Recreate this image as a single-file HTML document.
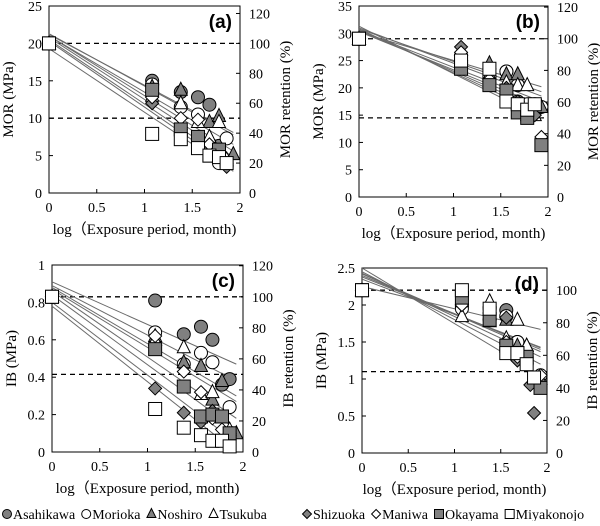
<!DOCTYPE html>
<html><head><meta charset="utf-8"><style>
body{margin:0;background:#fff;width:600px;height:521px;overflow:hidden}
svg text{font-family:"Liberation Serif",serif;fill:#000}
</style></head><body>
<svg id="c" width="600" height="521" xmlns="http://www.w3.org/2000/svg"></svg>
<script>
const seriesNames=["Asahikawa","Morioka","Noshiro","Tsukuba","Shizuoka","Maniwa","Okayama","Miyakonojo"];
const markerShapes=["circle","circle","triangle","triangle","diamond","diamond","square","square"];
const markerFilled=[true,false,true,false,true,false,true,false];
const xTicks=[0,0.5,1,1.5,2];
const rightTicksPct=[0,20,40,60,80,100,120];
// panel a data
const aStart=20;
const aYTicks=[0,5,10,15,20,25];
const aSeries=[
[[1.08,15],[1.38,13.5],[1.56,12.8],[1.68,11.8],[1.78,6.3]],
[[1.08,14.5],[1.38,11.5],[1.56,10.5],[1.68,6.5],[1.86,7.3],[1.78,4]],
[[1.08,14.2],[1.38,13.8],[1.68,9.5],[1.78,10.3],[1.93,5.2]],
[[1.08,13],[1.38,12],[1.56,9.5],[1.68,7.5],[1.78,9.5],[1.86,4.5]],
[[1.08,12],[1.38,8.5],[1.56,7],[1.68,6],[1.86,3.5]],
[[1.08,12.8],[1.38,10],[1.56,9.8],[1.68,6.5],[1.86,4]],
[[1.08,13.8],[1.38,8.5],[1.56,7.5],[1.68,5],[1.78,5.8]],
[[1.08,7.9],[1.38,7.2],[1.56,6],[1.68,5],[1.78,4.8],[1.86,4]]];
const aIntercepts=[21.3,21.2,21,21,20.8,20.5,20.3,19.3];
const aEnds=[7.8,8.1,6.5,5.6,4.8,3.9,3.3,2.9];
// panel b
const bStart=29;
const bYTicks=[0,5,10,15,20,25,30,35];
const bSeries=[
[[1.08,24],[1.38,22],[1.56,23],[1.68,17.5],[1.86,17]],
[[1.08,25],[1.38,22],[1.56,23],[1.68,20.5],[1.78,17],[1.93,16.5]],
[[1.08,27],[1.38,24.5],[1.56,22.5],[1.68,22.5],[1.78,15],[1.93,16.5]],
[[1.08,26],[1.38,22.5],[1.56,21],[1.68,20.5],[1.78,20.5],[1.86,15]],
[[1.08,27.5],[1.38,21],[1.56,20],[1.68,17.5],[1.86,15]],
[[1.08,26.5],[1.38,21.5],[1.56,19.5],[1.68,16.5],[1.93,11]],
[[1.08,23.5],[1.38,20.5],[1.56,19.5],[1.68,15.5],[1.78,14.5],[1.93,9.5]],
[[1.08,25],[1.38,23.5],[1.56,17.5],[1.68,17],[1.78,16],[1.86,17]]];
const bIntercepts=[30.2,30.8,31,30.5,30.3,30.6,30.8,31.3];
const bEnds=[20.2,19.3,18.5,17.5,16.8,16,15.3,14.5];
// panel c
const cStart=0.83;
const cYTicks=[0,0.2,0.4,0.6,0.8,1];
const cSeries=[
[[1.08,0.81],[1.38,0.63],[1.56,0.67],[1.68,0.60],[1.78,0.36],[1.86,0.39]],
[[1.08,0.64],[1.38,0.47],[1.56,0.53],[1.68,0.48],[1.86,0.24]],
[[1.08,0.62],[1.38,0.48],[1.56,0.46],[1.68,0.28],[1.78,0.38],[1.93,0.1]],
[[1.08,0.6],[1.38,0.56],[1.56,0.31],[1.68,0.32],[1.86,0.12]],
[[1.08,0.34],[1.38,0.21],[1.56,0.16],[1.68,0.22],[1.86,0.08]],
[[1.08,0.62],[1.38,0.43],[1.56,0.32],[1.68,0.18],[1.78,0.12],[1.86,0.1]],
[[1.08,0.55],[1.38,0.35],[1.56,0.19],[1.68,0.2],[1.78,0.19],[1.86,0.1]],
[[1.08,0.23],[1.38,0.13],[1.56,0.09],[1.68,0.06],[1.78,0.06],[1.86,0.03]]];
const cIntercepts=[0.91,0.89,0.88,0.87,0.86,0.84,0.80,0.78];
const cEnds=[0.47,0.38,0.30,0.27,0.18,0.12,0.05,0.0];
// panel d
const dStart=2.2;
const dYTicks=[0,0.5,1,1.5,2,2.5];
const dSeries=[
[[1.08,2.0],[1.38,1.8],[1.56,1.93],[1.68,1.5],[1.78,1.3],[1.93,1.0]],
[[1.08,1.95],[1.38,1.95],[1.56,1.85],[1.68,1.5],[1.78,1.2],[1.93,1.05]],
[[1.08,2.05],[1.38,1.78],[1.56,1.8],[1.68,1.45],[1.78,1.45],[1.93,1.0]],
[[1.08,1.85],[1.38,2.05],[1.56,1.55],[1.68,1.8],[1.78,1.45]],
[[1.08,2.0],[1.38,1.8],[1.56,1.83],[1.68,1.25],[1.82,0.92],[1.86,0.54]],
[[1.08,2.0],[1.38,1.9],[1.56,1.5],[1.68,1.3],[1.93,1.05]],
[[1.08,2.1],[1.38,1.8],[1.56,1.45],[1.68,1.35],[1.78,1.3],[1.93,0.88]],
[[1.08,2.2],[1.38,1.95],[1.56,1.35],[1.68,1.35],[1.78,1.2],[1.86,1.02]]];
const dIntercepts=[2.5,2.45,2.43,2.42,2.4,2.38,2.35,2.25];
const dEnds=[1.05,1.2,1.3,1.37,1.4,1.42,1.43,1.67];

const NS="http://www.w3.org/2000/svg";
const svg=document.getElementById('c');
function mk(tag,attrs,parent){const e=document.createElementNS(NS,tag);for(const k in attrs)e.setAttribute(k,attrs[k]);(parent||svg).appendChild(e);return e;}
function marker(shape,filled,x,y,parent,s){
  s=s||6.5;
  const a={fill:filled?'#808080':'#fff',stroke:'#000','stroke-width':1};
  if(shape==='circle')return mk('circle',Object.assign({cx:x,cy:y,r:s},a),parent);
  if(shape==='square')return mk('rect',Object.assign({x:x-s,y:y-s,width:2*s,height:2*s},a),parent);
  if(shape==='triangle')return mk('polygon',Object.assign({points:`${x},${y-s-1} ${x-s},${y+s-1} ${x+s},${y+s-1}`},a),parent);
  return mk('polygon',Object.assign({points:`${x},${y-s} ${x+s},${y} ${x},${y+s} ${x-s},${y}`},a),parent);
}
function drawPanel(id,label,yTitle,rTitle,start,yTicks,series,intercepts,ends,L,R,T,B,yMax,rMaxPct){
  const g=mk('g',{});
  
  
  const X=v=>L+(R-L)*v/2, Y=v=>B-(B-T)*v/yMax;
  const fr=mk('rect',{x:L,y:T,width:R-L,height:B-T,fill:'none',stroke:'#000','stroke-width':1},g);
  
  
  xTicks.forEach(t=>{
    mk('line',{x1:X(t),x2:X(t),y1:B,y2:B-4,stroke:'#000'},g);
    const tx=mk('text',{x:X(t),y:B+19,'text-anchor':'middle','font-size':14},g);tx.textContent=t;
    
    
  });
  yTicks.forEach(t=>{
    mk('line',{x1:L,x2:L+4,y1:Y(t),y2:Y(t),stroke:'#000'},g);
    const tx=mk('text',{x:L-7,y:Y(t)+5,'text-anchor':'end','font-size':14},g);tx.textContent=t;
    
    
  });
  rightTicksPct.filter(p=>p<=rMaxPct).forEach(p=>{
    const v=p*start/100;
    mk('line',{x1:R,x2:R-4,y1:Y(v),y2:Y(v),stroke:'#000'},g);
    const tx=mk('text',{x:R+9,y:Y(v)+5,'text-anchor':'start','font-size':14},g);tx.textContent=p;
    
    
  });
  [start,start/2].forEach(v=>{
    const d=mk('line',{x1:L,x2:R,y1:Y(v),y2:Y(v),stroke:'#000','stroke-width':1.3,'stroke-dasharray':'5,4'},g);
    
    
  });
  intercepts.forEach((b0,i)=>{
    const l=mk('line',{x1:X(0),y1:Y(b0),x2:X(1.93),y2:Y(ends[i]),stroke:'#6a6a6a','stroke-width':1},g);
    
    
  });
  series.forEach((pts,si)=>{
    [[0,start]].concat(pts).forEach(p=>{
      const m=marker(markerShapes[si],markerFilled[si],X(p[0]),Y(p[1]),g);
      
      
    });
  });
  const pl=mk('text',{x:R-8,y:T+22,'text-anchor':'end','font-size':19,'font-weight':'bold',style:'font-family:"Liberation Sans",sans-serif'},g);
  pl.textContent=label;
  
  
  const yt=mk('text',{transform:`translate(${L-36},${(T+B)/2}) rotate(-90)`,'text-anchor':'middle','font-size':15},g);
  yt.textContent=yTitle;
  
  
  const rt=mk('text',{transform:`translate(${R+50},${(T+B)/2}) rotate(-90)`,'text-anchor':'middle','font-size':15},g);
  rt.textContent=rTitle;
  
  
  const xt=mk('text',{x:(L+R)/2,y:B+41,'text-anchor':'middle','font-size':15},g);
  xt.textContent='log（Exposure period, month)';
  
  
}
drawPanel('a','(a)','MOR (MPa)','MOR retention (%)',aStart,aYTicks,aSeries,aIntercepts,aEnds,49,240,6,193,25,120);
drawPanel('b','(b)','MOR (MPa)','MOR retention (%)',bStart,bYTicks,bSeries,bIntercepts,bEnds,359,548,6,197,35,120);
drawPanel('c','(c)','IB (MPa)','IB retention (%)',cStart,cYTicks,cSeries,cIntercepts,cEnds,52,243,265,452,1,120);
drawPanel('d','(d)','IB (MPa)','IB retention (%)',dStart,dYTicks,dSeries,dIntercepts,dEnds,362,547,268,453,2.5,100);

const legend=mk('g',{});


let lx=2;
seriesNames.forEach((n,i)=>{
  if(i===4)lx=302;
  const g=mk('g',{},legend);
  
  
  marker(markerShapes[i],markerFilled[i],lx+5,514,g,4.5);
  const t=mk('text',{x:lx+11,y:519,'font-size':14},g);
  t.textContent=n;
  lx+=11+t.getComputedTextLength()+6;
});
</script>
</body></html>
